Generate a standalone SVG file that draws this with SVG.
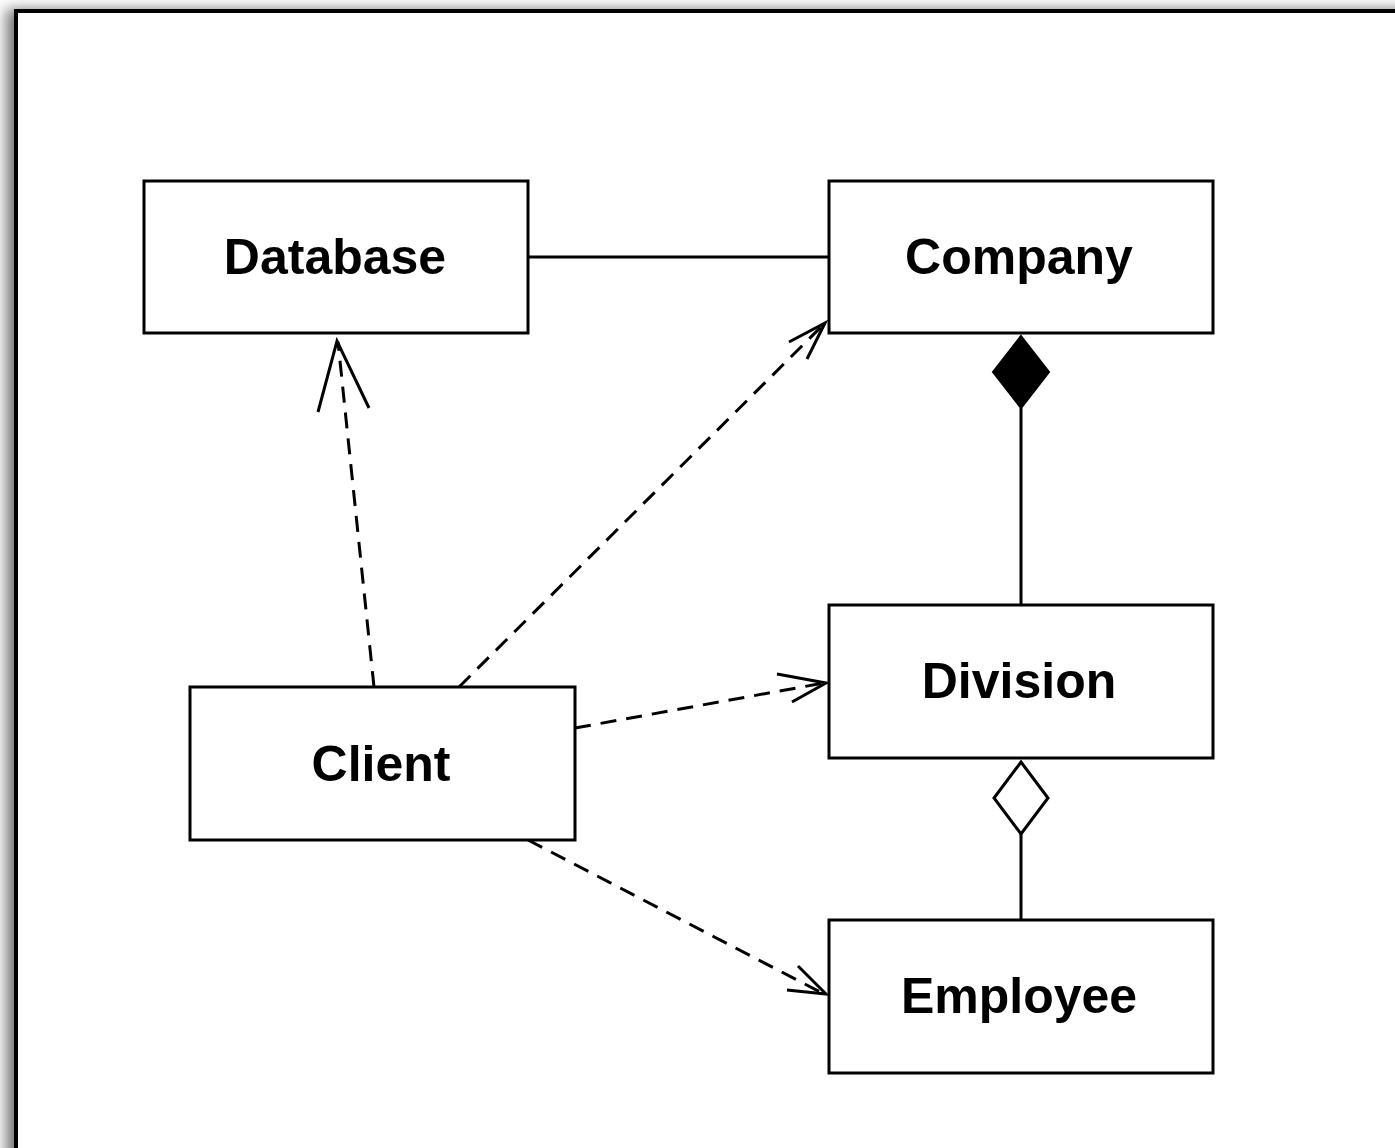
<svg xmlns="http://www.w3.org/2000/svg" width="1395" height="1148" viewBox="0 0 1395 1148">
<style>
.box{fill:#fff;stroke:#000;stroke-width:3}
.lbl{font-family:"Liberation Sans",Arial,sans-serif;font-weight:bold;font-size:50px;text-anchor:middle;fill:#000}
.line{stroke:#000;stroke-width:3;fill:none}
.dash{stroke:#000;stroke-width:3;fill:none;stroke-dasharray:16 10}
.head{stroke:#000;stroke-width:3;fill:none}
</style>
<defs>
<filter id="sh" x="-0.1" y="-0.1" width="1.2" height="1.2">
<feGaussianBlur stdDeviation="7"/>
</filter>
</defs>
<rect x="0" y="0" width="1395" height="1148" fill="#fff"/>
<rect x="6" y="9" width="1420" height="1180" fill="#777" filter="url(#sh)"/>
<rect x="16" y="11" width="1420" height="1180" fill="#fff" stroke="#000" stroke-width="4"/>
<g id="connectors">
<line class="line" x1="528" y1="257" x2="829" y2="257"/>
<line class="dash" x1="374" y1="687" x2="338" y2="342"/>
<polyline class="head" points="318,412 337,341 369,408"/>
<line class="dash" x1="459" y1="687" x2="824" y2="324"/>
<polyline class="head" points="789,342 825,323 807,359"/>
<line class="dash" x1="575" y1="728" x2="824" y2="683"/>
<polyline class="head" points="777,674 826,683 792,702"/>
<line class="dash" x1="528" y1="840" x2="824" y2="994"/>
<polyline class="head" points="798,966 826,994 787,990"/>
<line class="line" x1="1021" y1="408" x2="1021" y2="605"/>
<polygon points="1021,336 1049,372 1021,408 993,372" fill="#000" stroke="#000" stroke-width="2"/>
<line class="line" x1="1021" y1="834" x2="1021" y2="920"/>
<polygon points="1021,762 1048,798 1021,834 994,798" fill="#fff" stroke="#000" stroke-width="3"/>
</g>
<g id="database"><rect class="box" x="144" y="181" width="384" height="152"/><text class="lbl" x="335" y="274">Database</text></g>
<g id="company"><rect class="box" x="829" y="181" width="384" height="152"/><text class="lbl" x="1019" y="274">Company</text></g>
<g id="division"><rect class="box" x="829" y="605" width="384" height="153"/><text class="lbl" x="1019" y="698">Division</text></g>
<g id="client"><rect class="box" x="190" y="687" width="385" height="153"/><text class="lbl" x="381" y="781">Client</text></g>
<g id="employee"><rect class="box" x="829" y="920" width="384" height="153"/><text class="lbl" x="1019" y="1013">Employee</text></g>
</svg>
